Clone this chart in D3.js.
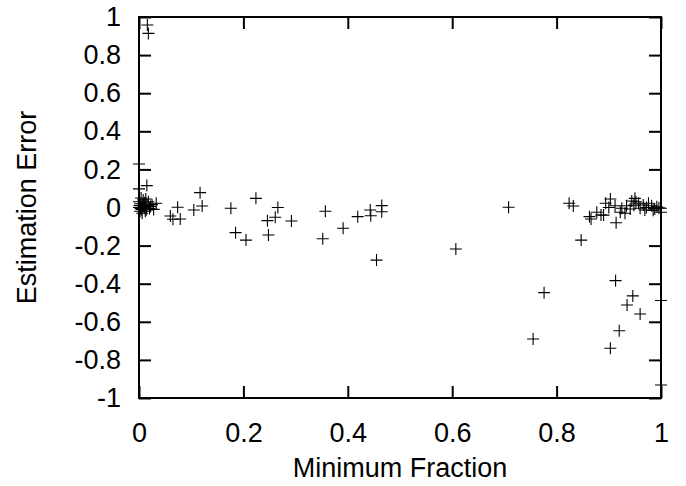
<!DOCTYPE html>
<html>
<head>
<meta charset="utf-8">
<script src="https://cdn.jsdelivr.net/npm/d3@7"></script>
<style>
  body { margin: 0; background: #fff; }
  text { font-family: "Liberation Sans", Arial, sans-serif; fill: #000; }
</style>
</head>
<body>
<div id="chart"></div>
<script>
// values: [minimum fraction, estimation error]
const nearZero = [
  [0.016, 0.958], [0.018, 0.914], [0.0, 0.228], [0.015, 0.115], [0.0, 0.098],
  [0.002, 0.02], [0.005, -0.01], [0.008, 0.04], [0.01, 0.0], [0.012, -0.02],
  [0.015, 0.01], [0.018, 0.03], [0.004, 0.05], [0.02, -0.005], [0.025, 0.015],
  [0.0, 0.0], [0.006, -0.03], [0.033, 0.022], [0.028, -0.01], [0.001, 0.01],
  [0.003, -0.005], [0.007, 0.012], [0.011, 0.025], [0.014, -0.012], [0.009, 0.006],
  [0.0, 0.03], [0.002, -0.02], [0.013, 0.045], [0.022, 0.005]
];
const middle = [
  [0.117, 0.078], [0.121, 0.008], [0.105, -0.013], [0.074, 0.001], [0.060, -0.045],
  [0.065, -0.062], [0.079, -0.06], [0.176, -0.004], [0.224, 0.048], [0.266, 0.0],
  [0.261, -0.051], [0.246, -0.069], [0.292, -0.071], [0.185, -0.132], [0.205, -0.171],
  [0.248, -0.144], [0.357, -0.02], [0.352, -0.164], [0.391, -0.109], [0.419, -0.048],
  [0.443, -0.013], [0.444, -0.043], [0.465, 0.010], [0.465, -0.022], [0.455, -0.276],
  [0.607, -0.218], [0.708, 0.001]
];
const nearOne = [
  [0.824, 0.022], [0.832, 0.008], [0.847, -0.171], [0.863, -0.048], [0.866, -0.060],
  [0.877, -0.025], [0.885, -0.039], [0.890, -0.04], [0.914, -0.08], [0.903, 0.045],
  [0.912, 0.009], [0.925, -0.004], [0.934, 0.009], [0.944, 0.034], [0.950, 0.048],
  [0.957, 0.022], [0.966, 0.013], [0.976, 0.022], [0.982, 0.009], [0.992, 0.004],
  [1.0, -0.004], [1.0, -0.025], [0.922, -0.025], [0.894, 0.022], [0.9, 0.0],
  [0.931, -0.03], [0.96, -0.004], [0.969, -0.013], [0.988, -0.008], [0.941, -0.008],
  [0.952, 0.03], [0.948, 0.012], [0.972, 0.0], [0.985, -0.015], [0.996, -0.002],
  [0.776, -0.447], [0.755, -0.690], [0.913, -0.384], [0.946, -0.464], [0.935, -0.512],
  [0.960, -0.559], [0.920, -0.647], [0.903, -0.739], [1.0, -0.488], [1.0, -0.932]
];
const points = nearZero.concat(middle, nearOne);

const xTicks = [0, 0.2, 0.4, 0.6, 0.8, 1];
const xLabels = ["0", "0.2", "0.4", "0.6", "0.8", "1"];
const yTicks = [-1, -0.8, -0.6, -0.4, -0.2, 0, 0.2, 0.4, 0.6, 0.8, 1];
const yLabels = ["-1", "-0.8", "-0.6", "-0.4", "-0.2", "0", "0.2", "0.4", "0.6", "0.8", "1"];

const width = 686, height = 486;
const margin = {left: 139, right: 25, top: 17, bottom: 88};
const fontSize = 27;

const svg = d3.select("#chart").append("svg")
  .attr("width", width)
  .attr("height", height);

const x = d3.scaleLinear().domain([0, 1]).range([margin.left, width - margin.right]);
const y = d3.scaleLinear().domain([-1, 1]).range([height - margin.bottom, margin.top]);

const tick = 12;
const fmtX = d => xLabels[xTicks.indexOf(d)];
const fmtY = d => yLabels[yTicks.indexOf(d)];

// bottom + left axes carry the labels, top + right are mirrored ticks only
const gB = svg.append("g").attr("transform", `translate(0,${y(-1)})`)
  .call(d3.axisBottom(x).tickValues(xTicks).tickFormat(fmtX).tickSizeInner(-tick).tickSizeOuter(0).tickPadding(25));
const gL = svg.append("g").attr("transform", `translate(${x(0)},0)`)
  .call(d3.axisLeft(y).tickValues(yTicks).tickFormat(fmtY).tickSizeInner(-tick).tickSizeOuter(0).tickPadding(18));
const gT = svg.append("g").attr("transform", `translate(0,${y(1)})`)
  .call(d3.axisTop(x).tickValues(xTicks).tickFormat("").tickSizeInner(-tick).tickSizeOuter(0));
const gR = svg.append("g").attr("transform", `translate(${x(1)},0)`)
  .call(d3.axisRight(y).tickValues(yTicks).tickFormat("").tickSizeInner(-tick).tickSizeOuter(0));

[gB, gL, gT, gR].forEach(g => {
  g.select(".domain").remove();
  g.selectAll(".tick line").attr("stroke", "#000").attr("stroke-width", 2);
  g.selectAll(".tick text").attr("font-size", fontSize).attr("font-family", null).attr("fill", "#000");
});

// frame
svg.append("rect")
  .attr("x", x(0)).attr("y", y(1))
  .attr("width", x(1) - x(0)).attr("height", y(-1) - y(1))
  .attr("fill", "none").attr("stroke", "#000").attr("stroke-width", 2);

// plus markers
const arm = 6;
svg.append("g").selectAll("path")
  .data(points)
  .join("path")
  .attr("d", d => `M${x(d[0]) - arm},${y(d[1])}H${x(d[0]) + arm}M${x(d[0])},${y(d[1]) - arm}V${y(d[1]) + arm}`)
  .attr("stroke", "#000")
  .attr("stroke-width", 1.1)
  .attr("fill", "none");

// axis titles
svg.append("text")
  .attr("x", (x(0) + x(1)) / 2).attr("y", 477)
  .attr("text-anchor", "middle").attr("font-size", fontSize)
  .text("Minimum Fraction");
svg.append("text")
  .attr("transform", `translate(36,${(y(1) + y(-1)) / 2}) rotate(-90)`)
  .attr("text-anchor", "middle").attr("font-size", fontSize)
  .text("Estimation Error");
</script>
</body>
</html>
